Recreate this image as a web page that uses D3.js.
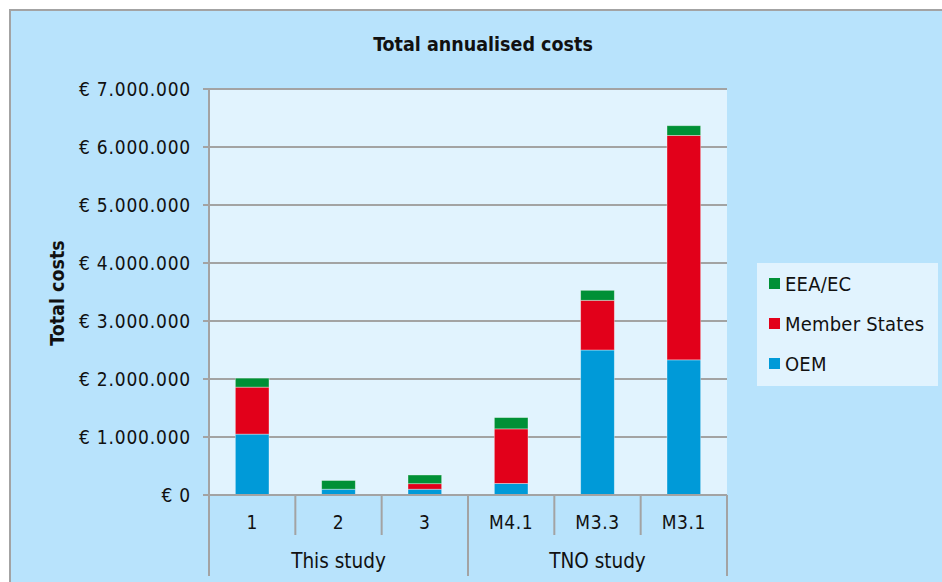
<!DOCTYPE html>
<html>
<head>
<meta charset="utf-8">
<script src="https://cdn.jsdelivr.net/npm/d3@7"></script>
<style>
  body { margin: 0; background: #fff; }
  svg text { font-family: "DejaVu Sans Condensed", "DejaVu Sans", sans-serif; font-stretch: condensed; fill: #111; }
</style>
</head>
<body>
<svg id="chart" width="942" height="582"></svg>
<script>
// chart data
var categories = ["1", "2", "3", "M4.1", "M3.3", "M3.1"];
var groups = ["This study", "This study", "This study", "TNO study", "TNO study", "TNO study"];
var oem = [1050000, 100000, 100000, 200000, 2500000, 2330000];
var memberStates = [810000, 0, 95000, 940000, 857000, 3870000];
var eeaEc = [155000, 150000, 150000, 195000, 172000, 167000];
var seriesNames = ["OEM", "Member States", "EEA/EC"];
var colors = ["#009ad8", "#e2001a", "#009036"];
var yTicks = [0, 1000000, 2000000, 3000000, 4000000, 5000000, 6000000, 7000000];

var svg = d3.select("#chart");

var plotLeft = 209, plotRight = 727, plotTop = 89, plotBottom = 495;

// outer area
svg.append("rect")
    .attr("x", 10).attr("y", 10)
    .attr("width", 960).attr("height", 600)
    .attr("fill", "#b8e3fc")
    .attr("stroke", "#a3a3a3")
    .attr("stroke-width", 2);

svg.append("text")
    .attr("x", 483).attr("y", 51)
    .attr("text-anchor", "middle")
    .style("font-size", "19.5px")
    .style("font-weight", "bold")
    .text("Total annualised costs");

var x = d3.scaleBand()
    .domain(categories)
    .range([plotLeft, plotRight]);

var y = d3.scaleLinear()
    .domain([0, 7000000])
    .range([plotBottom, plotTop]);

var g = svg.append("g");

// plot area
g.append("rect")
    .attr("x", plotLeft).attr("y", plotTop)
    .attr("width", plotRight - plotLeft).attr("height", plotBottom - plotTop)
    .attr("fill", "#e1f3fe");

// gridlines + y ticks
g.selectAll(".grid")
    .data(yTicks)
  .enter().append("line")
    .attr("x1", plotLeft - 6).attr("x2", plotRight)
    .attr("y1", function(d) { return y(d); })
    .attr("y2", function(d) { return y(d); })
    .attr("stroke", "#a3a3a3")
    .attr("stroke-width", 2);

g.selectAll(".ylab")
    .data(yTicks)
  .enter().append("text")
    .attr("x", 191)
    .attr("y", function(d) { return y(d); })
    .attr("dy", "0.36em")
    .attr("text-anchor", "end")
    .style("font-size", "19px")
    .style("letter-spacing", "0.8px")
    .text(function(d) {
      return "€ " + d3.format(",")(d).replace(/,/g, ".");
    });

svg.append("text")
    .attr("transform", "translate(64,293) rotate(-90)")
    .attr("text-anchor", "middle")
    .style("font-size", "19.5px")
    .style("font-weight", "bold")
    .text("Total costs");

// stacked bars
var rows = categories.map(function(c, i) {
  return { cat: c, "OEM": oem[i], "Member States": memberStates[i], "EEA/EC": eeaEc[i] };
});
var stack = d3.stack().keys(seriesNames)(rows);
var barW = x.bandwidth() * 0.39;

g.selectAll(".series")
    .data(stack)
  .enter().append("g")
    .attr("fill", function(d, i) { return colors[i]; })
  .selectAll("rect")
    .data(function(d) { return d; })
  .enter().append("rect")
    .attr("x", function(d) { return x(d.data.cat) + (x.bandwidth() - barW) / 2; })
    .attr("width", barW)
    .attr("y", function(d) { return y(d[1]); })
    .attr("height", function(d) { return y(d[0]) - y(d[1]); })
    .attr("stroke", "rgba(255,255,255,0.45)")
    .attr("stroke-width", 0.8);

// axes lines
g.append("line")
    .attr("x1", plotLeft).attr("x2", plotLeft)
    .attr("y1", plotTop).attr("y2", 576)
    .attr("stroke", "#a3a3a3").attr("stroke-width", 2);

g.append("line")
    .attr("x1", plotLeft - 6).attr("x2", plotRight)
    .attr("y1", plotBottom).attr("y2", plotBottom)
    .attr("stroke", "#a3a3a3").attr("stroke-width", 2);

// category separators
var groupNames = groups.filter(function(d, i) { return groups.indexOf(d) === i; });
categories.forEach(function(c, i) {
  var xe = x(c) + x.bandwidth();
  var isGroupEnd = i === categories.length - 1 || groups[i] !== groups[i + 1];
  g.append("line")
      .attr("x1", xe).attr("x2", xe)
      .attr("y1", plotBottom).attr("y2", isGroupEnd ? 576 : 535)
      .attr("stroke", "#a3a3a3").attr("stroke-width", 2);
});

g.selectAll(".xlab")
    .data(categories)
  .enter().append("text")
    .attr("x", function(d) { return x(d) + x.bandwidth() / 2; })
    .attr("y", 529)
    .attr("text-anchor", "middle")
    .style("font-size", "19px")
    .style("letter-spacing", "0.6px")
    .text(function(d) { return d; });

g.selectAll(".glab")
    .data(groupNames)
  .enter().append("text")
    .attr("x", function(name) {
      var cats = categories.filter(function(c, i) { return groups[i] === name; });
      return (x(cats[0]) + x(cats[cats.length - 1]) + x.bandwidth()) / 2;
    })
    .attr("y", 568)
    .attr("text-anchor", "middle")
    .style("font-size", "20.5px")
    .text(function(d) { return d; });

// legend
var legend = svg.append("g");
legend.append("rect")
    .attr("x", 757).attr("y", 263)
    .attr("width", 181).attr("height", 123)
    .attr("fill", "#e1f3fe");

var legendOrder = seriesNames.slice().reverse();
var li = legend.selectAll(".li")
    .data(legendOrder)
  .enter().append("g")
    .attr("transform", function(d, i) { return "translate(769," + (284 + i * 40) + ")"; });

li.append("rect")
    .attr("x", 0).attr("y", -6)
    .attr("width", 11).attr("height", 11)
    .attr("fill", function(d) { return colors[seriesNames.indexOf(d)]; });

li.append("text")
    .attr("x", 16).attr("y", 0)
    .attr("dy", "0.36em")
    .style("font-size", "20px")
    .style("letter-spacing", "0.2px")
    .text(function(d) { return d; });
</script>
</body>
</html>
